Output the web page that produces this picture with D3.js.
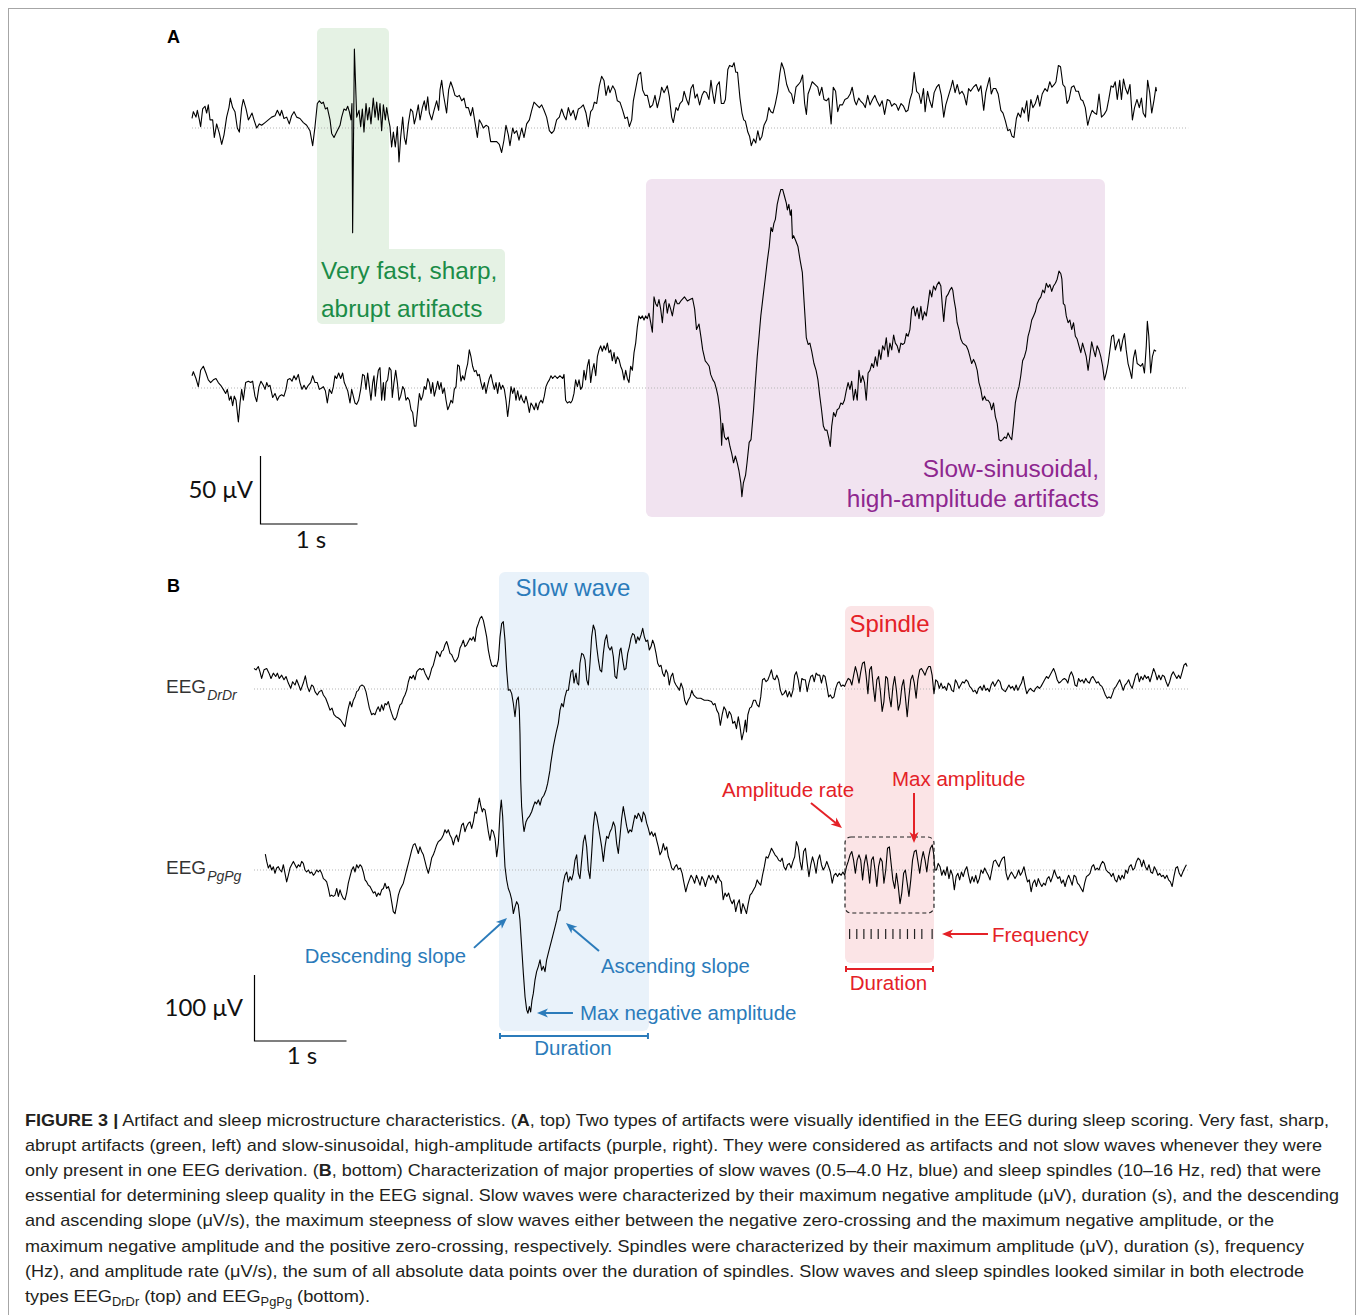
<!DOCTYPE html>
<html><head><meta charset="utf-8">
<script src="https://cdn.jsdelivr.net/npm/d3@7"></script>
<style>body{margin:0;background:#fff}svg{display:block}</style>
</head><body>
<svg id="fig" width="1358" height="1315"></svg>
<script>
// ---------------- DATA (time in s, amplitude in µV) ----------------
const traceA1 = [[0,7],[0.014,12],[0.041,8],[0.055,13],[0.076,6],[0.089,1],[0.110,14],[0.134,16],[0.151,11],[0.168,17],[0.186,6],[0.213,6],[0.230,-7],[0.254,3],[0.282,-4],[0.306,-12],[0.330,-5],[0.357,8],[0.381,15],[0.395,22],[0.419,15],[0.443,12],[0.467,0],[0.488,-3],[0.512,15],[0.529,21],[0.557,14],[0.581,6],[0.598,8],[0.619,11],[0.639,6],[0.667,0],[0.694,3],[0.718,2],[0.753,4],[0.787,6],[0.821,8],[0.856,9],[0.880,13],[0.907,9],[0.924,13],[0.948,7],[0.976,8],[1.003,3],[1.027,9],[1.052,12],[1.079,8],[1.113,7],[1.148,4],[1.182,2],[1.216,-2],[1.244,-13],[1.268,1],[1.292,18],[1.313,20],[1.337,18],[1.354,19],[1.375,14],[1.395,15],[1.423,6],[1.440,-4],[1.464,-7],[1.491,-3],[1.526,2],[1.543,8],[1.567,14],[1.588,13],[1.605,16],[1.622,12],[1.639,6],[1.649,18],[1.656,-77],[1.674,58],[1.698,8],[1.722,13],[1.739,1],[1.756,14],[1.773,-3],[1.794,18],[1.811,6],[1.828,15],[1.845,3],[1.869,22],[1.887,8],[1.904,19],[1.921,6],[1.938,18],[1.955,-2],[1.973,17],[1.993,6],[2.007,15],[2.027,6],[2.041,1],[2.058,-14],[2.076,-3],[2.096,-14],[2.117,1],[2.134,-25],[2.151,-7],[2.172,8],[2.189,-7],[2.206,-12],[2.230,3],[2.254,14],[2.275,12],[2.292,3],[2.309,8],[2.333,17],[2.351,6],[2.375,15],[2.395,20],[2.412,13],[2.430,23],[2.447,11],[2.471,6],[2.495,13],[2.522,20],[2.543,13],[2.557,28],[2.574,35],[2.591,25],[2.608,18],[2.625,11],[2.646,28],[2.667,34],[2.687,30],[2.711,24],[2.735,23],[2.756,24],[2.780,20],[2.804,22],[2.825,15],[2.849,15],[2.873,9],[2.893,15],[2.918,4],[2.942,-7],[2.962,6],[2.986,3],[3.003,0],[3.031,2],[3.055,1],[3.079,-10],[3.107,-10],[3.141,-10],[3.168,-12],[3.192,-18],[3.216,-9],[3.237,2],[3.261,-5],[3.278,-13],[3.306,0],[3.323,-4],[3.347,-2],[3.371,-9],[3.399,0],[3.423,-7],[3.450,3],[3.478,6],[3.502,13],[3.526,19],[3.553,17],[3.581,15],[3.605,17],[3.629,13],[3.656,8],[3.684,-2],[3.708,-4],[3.732,-2],[3.759,6],[3.787,8],[3.811,14],[3.835,9],[3.856,6],[3.880,15],[3.904,9],[3.931,13],[3.955,6],[3.983,14],[4.007,15],[4.034,17],[4.062,11],[4.086,1],[4.110,12],[4.131,14],[4.148,19],[4.172,18],[4.199,31],[4.223,38],[4.247,35],[4.268,24],[4.292,31],[4.309,26],[4.337,31],[4.361,28],[4.385,20],[4.412,19],[4.440,13],[4.464,7],[4.488,8],[4.509,1],[4.533,6],[4.550,20],[4.577,30],[4.601,39],[4.625,41],[4.646,28],[4.670,24],[4.694,24],[4.722,15],[4.749,17],[4.773,24],[4.797,15],[4.825,23],[4.842,30],[4.866,26],[4.887,29],[4.900,31],[4.921,23],[4.945,8],[4.962,4],[4.990,15],[5.010,13],[5.031,18],[5.056,20],[5.073,27],[5.098,21],[5.120,17],[5.144,29],[5.166,32],[5.187,22],[5.208,25],[5.233,17],[5.258,24],[5.279,27],[5.304,26],[5.329,21],[5.350,35],[5.365,27],[5.386,18],[5.411,31],[5.436,34],[5.457,18],[5.482,18],[5.499,21],[5.524,43],[5.542,46],[5.570,45],[5.588,48],[5.606,41],[5.624,41],[5.649,22],[5.670,11],[5.688,6],[5.705,5],[5.730,-3],[5.748,-6],[5.766,-13],[5.791,-8],[5.812,-11],[5.833,-2],[5.854,-9],[5.876,-6],[5.897,2],[5.925,6],[5.947,15],[5.968,12],[5.989,11],[6.014,18],[6.039,27],[6.060,40],[6.078,48],[6.103,43],[6.131,32],[6.156,27],[6.181,25],[6.202,18],[6.227,30],[6.252,32],[6.273,34],[6.295,39],[6.316,18],[6.334,10],[6.351,25],[6.376,30],[6.394,34],[6.422,32],[6.451,30],[6.469,24],[6.493,30],[6.515,21],[6.540,20],[6.564,22],[6.589,3],[6.611,30],[6.635,27],[6.657,12],[6.678,17],[6.706,17],[6.731,21],[6.760,22],[6.785,25],[6.806,30],[6.831,20],[6.849,17],[6.873,22],[6.891,20],[6.919,18],[6.941,15],[6.966,24],[6.990,17],[7.015,21],[7.040,24],[7.061,20],[7.090,16],[7.115,20],[7.140,10],[7.168,21],[7.193,20],[7.214,16],[7.239,18],[7.260,17],[7.282,13],[7.310,18],[7.335,16],[7.360,12],[7.381,13],[7.402,21],[7.424,26],[7.445,41],[7.470,27],[7.495,25],[7.516,18],[7.541,29],[7.558,12],[7.583,27],[7.605,20],[7.629,15],[7.651,26],[7.676,30],[7.700,32],[7.725,24],[7.750,8],[7.771,17],[7.800,24],[7.825,30],[7.842,35],[7.867,26],[7.889,32],[7.913,25],[7.938,27],[7.960,24],[7.984,17],[8.006,29],[8.027,27],[8.055,30],[8.084,32],[8.109,27],[8.133,31],[8.162,13],[8.183,26],[8.204,32],[8.222,37],[8.240,25],[8.261,29],[8.286,29],[8.311,25],[8.339,13],[8.361,11],[8.386,5],[8.410,-2],[8.432,-1],[8.453,-6],[8.474,-7],[8.499,7],[8.517,11],[8.542,8],[8.559,15],[8.581,11],[8.606,20],[8.623,5],[8.648,21],[8.669,15],[8.694,18],[8.719,24],[8.740,16],[8.765,25],[8.794,29],[8.818,27],[8.843,34],[8.865,30],[8.890,32],[8.907,34],[8.932,46],[8.954,45],[8.978,32],[9.000,30],[9.021,18],[9.042,21],[9.067,30],[9.092,31],[9.113,27],[9.138,27],[9.163,21],[9.184,20],[9.209,15],[9.234,2],[9.255,8],[9.280,13],[9.305,11],[9.326,10],[9.351,25],[9.376,8],[9.404,10],[9.429,13],[9.451,21],[9.475,31],[9.497,30],[9.518,34],[9.539,21],[9.564,35],[9.582,21],[9.603,36],[9.624,29],[9.646,25],[9.670,32],[9.695,6],[9.717,15],[9.742,21],[9.766,15],[9.788,22],[9.806,11],[9.830,8],[9.852,35],[9.873,26],[9.894,11],[9.919,21],[9.937,30],[9.944,27]];

const traceA2 = [[0,9],[0.014,12],[0.041,7],[0.065,1],[0.089,13],[0.117,16],[0.144,11],[0.168,6],[0.192,4],[0.220,6],[0.247,7],[0.271,4],[0.296,2],[0.323,-1],[0.347,-4],[0.364,-1],[0.385,-9],[0.402,-6],[0.419,-13],[0.436,-6],[0.454,-9],[0.478,-25],[0.495,-11],[0.512,-1],[0.529,-9],[0.553,4],[0.581,5],[0.605,4],[0.625,5],[0.649,-6],[0.667,-10],[0.691,1],[0.711,5],[0.735,2],[0.753,-1],[0.770,4],[0.787,1],[0.804,2],[0.832,-7],[0.856,-4],[0.880,-9],[0.900,-6],[0.924,-5],[0.948,-6],[0.969,-1],[0.986,6],[1.010,7],[1.031,5],[1.052,9],[1.072,6],[1.096,10],[1.113,4],[1.134,-1],[1.155,2],[1.175,-1],[1.199,2],[1.223,4],[1.244,9],[1.268,4],[1.292,4],[1.313,-1],[1.337,0],[1.354,1],[1.375,-2],[1.395,-11],[1.416,-1],[1.440,-4],[1.457,1],[1.474,9],[1.491,7],[1.512,11],[1.533,7],[1.553,11],[1.570,4],[1.588,1],[1.605,-2],[1.629,-11],[1.646,-1],[1.663,-6],[1.680,-11],[1.698,-12],[1.718,-9],[1.739,-1],[1.759,10],[1.777,9],[1.794,-1],[1.811,11],[1.828,1],[1.845,-9],[1.863,4],[1.876,9],[1.890,-6],[1.904,4],[1.921,13],[1.938,15],[1.955,-9],[1.973,4],[1.986,-9],[2.000,4],[2.017,6],[2.034,15],[2.052,13],[2.065,-7],[2.082,4],[2.100,13],[2.117,4],[2.134,-9],[2.151,-6],[2.172,1],[2.189,-1],[2.206,-9],[2.223,-7],[2.241,-9],[2.258,-16],[2.275,-18],[2.292,-28],[2.309,-28],[2.326,-16],[2.344,-4],[2.361,-9],[2.378,-6],[2.395,1],[2.412,-1],[2.430,7],[2.447,4],[2.464,-4],[2.481,4],[2.498,-6],[2.515,-1],[2.533,5],[2.550,-1],[2.567,4],[2.584,-4],[2.601,0],[2.619,-9],[2.636,-16],[2.653,-13],[2.670,-9],[2.687,-11],[2.704,-1],[2.722,1],[2.739,17],[2.756,16],[2.773,5],[2.790,9],[2.808,6],[2.825,13],[2.842,18],[2.859,28],[2.876,23],[2.893,16],[2.911,12],[2.928,13],[2.945,9],[2.962,10],[2.979,4],[2.997,-1],[3.014,4],[3.031,-4],[3.048,2],[3.065,7],[3.082,10],[3.100,4],[3.117,-1],[3.134,4],[3.151,-4],[3.168,4],[3.186,-1],[3.203,2],[3.220,-1],[3.237,-9],[3.254,-21],[3.271,-11],[3.289,1],[3.306,-4],[3.323,0],[3.340,-9],[3.357,-2],[3.375,-9],[3.392,-5],[3.409,-9],[3.426,-11],[3.443,-6],[3.460,-11],[3.478,-18],[3.495,-11],[3.512,-13],[3.529,-16],[3.546,-11],[3.564,-16],[3.581,-11],[3.598,-9],[3.615,-11],[3.632,-6],[3.649,1],[3.667,4],[3.684,6],[3.701,9],[3.718,7],[3.742,9],[3.766,7],[3.794,9],[3.821,7],[3.835,10],[3.852,-9],[3.870,-11],[3.890,-10],[3.904,-11],[3.921,-9],[3.938,-4],[3.955,6],[3.973,1],[3.990,6],[4.007,-1],[4.024,1],[4.041,13],[4.058,6],[4.076,16],[4.093,21],[4.110,4],[4.127,13],[4.144,18],[4.162,9],[4.179,23],[4.196,28],[4.213,31],[4.230,27],[4.247,31],[4.265,28],[4.282,33],[4.299,26],[4.316,28],[4.333,20],[4.351,26],[4.368,18],[4.385,23],[4.402,21],[4.419,16],[4.436,13],[4.454,6],[4.471,13],[4.488,7],[4.505,4],[4.522,16],[4.540,13],[4.557,26],[4.574,33],[4.591,45],[4.608,53],[4.625,51],[4.643,53],[4.660,50],[4.677,53],[4.694,51],[4.711,55],[4.729,48],[4.746,41],[4.763,67],[4.780,62],[4.797,60],[4.814,65],[4.832,58],[4.849,48],[4.866,62],[4.883,65],[4.900,55],[4.918,62],[4.935,58],[4.952,53],[4.969,60],[4.986,65],[5.003,62],[5.021,62],[5.040,64],[5.077,67],[5.107,64],[5.133,65],[5.160,66],[5.182,58],[5.201,43],[5.227,47],[5.246,38],[5.265,28],[5.291,20],[5.313,18],[5.332,16],[5.347,10],[5.370,6],[5.388,4],[5.407,-1],[5.422,-6],[5.441,-16],[5.452,-26],[5.460,-42],[5.471,-26],[5.490,-36],[5.508,-38],[5.527,-36],[5.546,-43],[5.564,-48],[5.583,-55],[5.602,-50],[5.621,-55],[5.639,-61],[5.658,-70],[5.669,-80],[5.684,-70],[5.707,-64],[5.722,-55],[5.744,-40],[5.763,-38],[5.789,-16],[5.808,4],[5.827,23],[5.846,38],[5.864,53],[5.887,67],[5.909,80],[5.932,94],[5.951,104],[5.969,118],[5.984,115],[5.999,121],[6.014,124],[6.033,135],[6.052,141],[6.071,146],[6.089,146],[6.108,141],[6.127,136],[6.138,131],[6.153,135],[6.168,127],[6.179,131],[6.190,110],[6.202,112],[6.220,109],[6.247,104],[6.269,94],[6.292,85],[6.307,67],[6.322,50],[6.333,37],[6.352,32],[6.370,33],[6.389,27],[6.412,18],[6.434,13],[6.453,6],[6.472,-6],[6.490,-16],[6.509,-28],[6.527,-31],[6.546,-31],[6.565,-37],[6.580,-43],[6.595,-28],[6.614,-18],[6.633,-21],[6.651,-16],[6.670,-15],[6.689,-11],[6.708,-12],[6.726,-9],[6.745,-2],[6.764,4],[6.783,-1],[6.801,5],[6.820,-9],[6.839,-1],[6.858,-9],[6.876,13],[6.895,4],[6.914,9],[6.933,4],[6.951,-9],[6.970,11],[6.989,13],[7.008,18],[7.026,15],[7.045,23],[7.064,16],[7.083,28],[7.101,21],[7.120,31],[7.139,28],[7.158,37],[7.176,23],[7.195,33],[7.214,28],[7.233,39],[7.251,33],[7.270,31],[7.289,26],[7.308,33],[7.326,32],[7.345,33],[7.364,40],[7.382,38],[7.401,43],[7.420,58],[7.439,60],[7.457,53],[7.476,59],[7.495,51],[7.514,60],[7.532,50],[7.551,56],[7.570,53],[7.589,62],[7.607,72],[7.626,67],[7.645,75],[7.664,72],[7.682,76],[7.701,78],[7.720,75],[7.738,58],[7.750,49],[7.761,58],[7.776,67],[7.795,69],[7.813,72],[7.832,74],[7.843,72],[7.858,64],[7.873,58],[7.888,48],[7.907,43],[7.926,36],[7.945,33],[7.963,32],[7.982,31],[8.001,28],[8.020,23],[8.038,18],[8.057,21],[8.076,18],[8.095,13],[8.113,4],[8.132,-1],[8.151,-9],[8.170,-6],[8.188,-9],[8.207,-9],[8.226,-11],[8.244,-16],[8.263,-11],[8.282,-21],[8.301,-26],[8.320,-38],[8.338,-39],[8.357,-38],[8.376,-36],[8.395,-37],[8.413,-33],[8.432,-36],[8.451,-38],[8.469,-26],[8.488,-11],[8.507,-4],[8.526,1],[8.544,9],[8.563,20],[8.582,23],[8.601,28],[8.619,38],[8.638,43],[8.657,50],[8.676,53],[8.694,56],[8.713,62],[8.732,65],[8.751,67],[8.770,72],[8.788,70],[8.807,77],[8.826,74],[8.844,76],[8.863,71],[8.882,75],[8.901,77],[8.919,80],[8.938,86],[8.957,84],[8.968,80],[8.983,62],[8.998,61],[9.013,53],[9.032,48],[9.050,50],[9.069,43],[9.088,48],[9.107,38],[9.125,36],[9.144,31],[9.163,26],[9.181,33],[9.200,28],[9.219,23],[9.238,13],[9.256,23],[9.275,34],[9.294,28],[9.313,23],[9.331,31],[9.350,28],[9.369,23],[9.388,16],[9.406,6],[9.425,11],[9.444,18],[9.463,28],[9.481,38],[9.500,39],[9.519,28],[9.538,33],[9.556,36],[9.575,27],[9.594,35],[9.613,40],[9.631,28],[9.650,18],[9.669,13],[9.688,7],[9.706,22],[9.725,28],[9.744,18],[9.763,17],[9.781,16],[9.800,18],[9.819,11],[9.838,31],[9.849,49],[9.864,38],[9.883,11],[9.901,23],[9.920,28],[9.939,27]];

const traceDrDr = [[0,31],[0.022,29],[0.047,34],[0.065,26],[0.083,16],[0.109,29],[0.138,31],[0.163,24],[0.185,16],[0.210,24],[0.236,19],[0.254,24],[0.275,16],[0.301,21],[0.326,14],[0.348,19],[0.373,9],[0.399,1],[0.420,11],[0.446,6],[0.464,14],[0.486,6],[0.507,-2],[0.536,9],[0.558,20],[0.580,4],[0.601,-4],[0.627,6],[0.645,4],[0.663,-4],[0.688,-9],[0.710,-4],[0.736,-2],[0.754,-9],[0.779,-14],[0.801,-22],[0.826,-32],[0.848,-29],[0.870,-39],[0.891,-42],[0.917,-44],[0.942,-47],[0.964,-52],[0.989,-57],[1.007,-42],[1.025,-29],[1.043,-19],[1.062,-27],[1.080,-17],[1.098,-12],[1.116,-4],[1.134,-2],[1.152,4],[1.174,6],[1.196,4],[1.217,-4],[1.232,-14],[1.254,-29],[1.279,-39],[1.297,-37],[1.315,-39],[1.333,-32],[1.351,-27],[1.370,-34],[1.388,-24],[1.406,-32],[1.424,-22],[1.442,-24],[1.460,-19],[1.478,-29],[1.496,-37],[1.514,-44],[1.533,-47],[1.551,-42],[1.569,-32],[1.587,-24],[1.605,-22],[1.623,-14],[1.641,-9],[1.659,-2],[1.678,11],[1.696,19],[1.714,16],[1.732,21],[1.750,14],[1.768,26],[1.786,29],[1.804,31],[1.822,29],[1.841,31],[1.859,24],[1.877,19],[1.895,14],[1.913,21],[1.931,31],[1.949,36],[1.967,46],[1.986,57],[2.004,54],[2.022,49],[2.040,57],[2.058,59],[2.076,67],[2.094,72],[2.112,64],[2.130,54],[2.149,52],[2.167,46],[2.185,41],[2.203,44],[2.221,49],[2.239,62],[2.257,67],[2.275,74],[2.293,64],[2.312,67],[2.330,72],[2.348,77],[2.366,74],[2.384,79],[2.402,72],[2.420,92],[2.438,99],[2.457,107],[2.475,110],[2.493,104],[2.511,92],[2.529,79],[2.547,59],[2.565,46],[2.583,36],[2.601,34],[2.620,36],[2.638,34],[2.656,44],[2.674,79],[2.692,99],[2.710,102],[2.728,74],[2.746,29],[2.764,-2],[2.783,-1],[2.801,-7],[2.819,-22],[2.837,-42],[2.855,-17],[2.873,-12],[2.884,-32],[2.891,-67],[2.899,-138],[2.909,-178],[2.924,-203],[2.935,-216],[2.957,-201],[2.975,-196],[2.993,-193],[3.018,-186],[3.036,-178],[3.054,-171],[3.072,-174],[3.091,-168],[3.109,-176],[3.127,-166],[3.152,-161],[3.174,-153],[3.192,-143],[3.217,-123],[3.225,-113],[3.254,-87],[3.283,-67],[3.308,-52],[3.326,-32],[3.344,-22],[3.362,-27],[3.380,-12],[3.399,-2],[3.417,-2],[3.428,9],[3.446,26],[3.464,29],[3.478,9],[3.500,24],[3.514,9],[3.529,6],[3.543,39],[3.562,54],[3.580,52],[3.598,44],[3.616,14],[3.634,6],[3.652,39],[3.670,79],[3.688,97],[3.707,89],[3.725,64],[3.743,44],[3.761,29],[3.779,26],[3.797,54],[3.815,74],[3.833,82],[3.851,64],[3.870,59],[3.888,64],[3.906,49],[3.924,19],[3.942,16],[3.960,39],[3.978,59],[3.989,62],[4.007,44],[4.025,29],[4.043,31],[4.062,54],[4.080,64],[4.098,77],[4.116,84],[4.134,82],[4.152,69],[4.170,79],[4.188,74],[4.207,82],[4.225,92],[4.243,79],[4.261,72],[4.279,74],[4.297,59],[4.315,64],[4.333,74],[4.351,67],[4.370,54],[4.388,39],[4.406,34],[4.424,36],[4.442,24],[4.460,19],[4.478,29],[4.496,24],[4.514,6],[4.533,19],[4.551,24],[4.569,11],[4.587,6],[4.612,1],[4.623,-2],[4.642,9],[4.662,1],[4.681,-17],[4.701,-24],[4.720,-17],[4.740,-12],[4.759,-2],[4.778,-9],[4.798,-12],[4.817,-14],[4.856,-14],[4.895,-17],[4.934,-17],[4.972,-19],[4.992,-24],[5.011,-22],[5.030,-32],[5.050,-37],[5.069,-55],[5.089,-39],[5.108,-27],[5.128,-32],[5.147,-44],[5.166,-34],[5.186,-39],[5.205,-52],[5.225,-49],[5.244,-60],[5.264,-42],[5.283,-57],[5.302,-77],[5.322,-65],[5.341,-47],[5.353,-65],[5.368,-39],[5.388,-29],[5.407,-27],[5.430,-17],[5.450,-17],[5.469,-24],[5.489,-27],[5.508,-12],[5.527,14],[5.547,16],[5.566,11],[5.586,14],[5.605,21],[5.624,29],[5.644,16],[5.663,14],[5.683,21],[5.702,14],[5.722,-2],[5.741,-9],[5.760,-7],[5.780,-2],[5.799,-12],[5.819,-4],[5.838,-12],[5.858,-2],[5.877,21],[5.896,26],[5.916,14],[5.935,-4],[5.955,16],[5.974,14],[5.993,14],[6.013,-4],[6.032,9],[6.052,19],[6.071,21],[6.090,11],[6.110,24],[6.129,21],[6.149,21],[6.168,9],[6.188,21],[6.207,19],[6.227,4],[6.246,-12],[6.265,-9],[6.285,-14],[6.304,-12],[6.323,1],[6.343,9],[6.362,11],[6.382,4],[6.401,6],[6.420,4],[6.440,11],[6.459,16],[6.479,14],[6.498,6],[6.518,21],[6.537,34],[6.556,24],[6.576,9],[6.595,26],[6.614,39],[6.634,41],[6.653,21],[6.673,-7],[6.692,29],[6.711,34],[6.731,4],[6.750,-19],[6.770,14],[6.789,19],[6.809,-4],[6.828,-34],[6.847,-19],[6.867,19],[6.886,16],[6.906,-12],[6.925,-27],[6.945,4],[6.964,19],[6.983,-2],[7.003,-32],[7.022,-22],[7.042,4],[7.061,14],[7.080,-12],[7.100,-42],[7.119,-12],[7.139,14],[7.158,21],[7.177,9],[7.197,-14],[7.216,14],[7.236,29],[7.255,31],[7.275,26],[7.294,21],[7.313,29],[7.333,34],[7.352,34],[7.371,21],[7.391,-7],[7.410,14],[7.430,11],[7.449,1],[7.468,9],[7.488,1],[7.507,4],[7.527,-2],[7.546,9],[7.566,6],[7.585,-2],[7.604,-4],[7.624,14],[7.643,9],[7.663,1],[7.682,6],[7.701,11],[7.721,9],[7.740,14],[7.760,11],[7.779,4],[7.799,1],[7.818,-4],[7.837,-2],[7.857,-7],[7.876,1],[7.896,4],[7.915,-2],[7.934,6],[7.954,-2],[7.973,1],[7.993,-4],[8.012,6],[8.031,11],[8.051,4],[8.070,9],[8.090,14],[8.109,11],[8.128,1],[8.148,-2],[8.167,-4],[8.187,1],[8.206,6],[8.225,1],[8.245,4],[8.264,-2],[8.284,6],[8.303,-2],[8.323,4],[8.342,9],[8.361,19],[8.381,4],[8.400,-7],[8.420,-2],[8.439,1],[8.458,-2],[8.478,-4],[8.497,1],[8.517,4],[8.536,1],[8.555,4],[8.575,9],[8.594,14],[8.614,19],[8.633,16],[8.652,21],[8.672,26],[8.691,31],[8.711,24],[8.730,14],[8.749,9],[8.769,11],[8.788,14],[8.808,16],[8.827,14],[8.846,9],[8.866,21],[8.885,26],[8.905,19],[8.924,6],[8.944,4],[8.963,16],[8.982,11],[9.002,14],[9.021,9],[9.041,16],[9.060,11],[9.080,9],[9.099,16],[9.118,19],[9.138,14],[9.157,9],[9.177,11],[9.196,6],[9.216,4],[9.235,-2],[9.254,-9],[9.274,-14],[9.293,-12],[9.313,-14],[9.332,-7],[9.351,1],[9.371,4],[9.390,9],[9.410,14],[9.429,6],[9.448,-2],[9.468,6],[9.487,9],[9.507,14],[9.526,6],[9.545,1],[9.565,11],[9.584,21],[9.604,24],[9.623,11],[9.642,19],[9.662,14],[9.681,21],[9.701,16],[9.720,19],[9.739,11],[9.759,21],[9.778,31],[9.798,24],[9.817,14],[9.836,21],[9.856,14],[9.875,21],[9.895,19],[9.914,11],[9.934,4],[9.953,11],[9.972,21],[9.992,26],[10.011,21],[10.031,16],[10.050,21],[10.069,16],[10.089,26],[10.108,36],[10.128,39],[10.143,34]];

const tracePgPg = [[0.123,24],[0.138,13],[0.156,3],[0.174,8],[0.192,0],[0.210,5],[0.228,-5],[0.246,3],[0.264,5],[0.283,0],[0.301,-3],[0.319,8],[0.337,-5],[0.355,-18],[0.373,-8],[0.391,3],[0.409,8],[0.428,13],[0.446,8],[0.464,3],[0.482,8],[0.500,5],[0.518,13],[0.536,10],[0.554,0],[0.572,-3],[0.591,0],[0.609,-5],[0.627,-3],[0.645,-8],[0.663,-5],[0.681,0],[0.699,-3],[0.717,0],[0.736,-5],[0.754,-13],[0.772,-15],[0.790,-18],[0.808,-28],[0.826,-40],[0.844,-38],[0.862,-40],[0.880,-38],[0.899,-28],[0.917,-40],[0.935,-30],[0.953,-38],[0.971,-43],[0.989,-45],[1.007,-35],[1.025,-20],[1.043,-10],[1.062,0],[1.080,5],[1.098,-3],[1.116,8],[1.134,3],[1.152,8],[1.170,5],[1.188,-3],[1.207,-15],[1.225,-18],[1.243,-23],[1.261,-25],[1.279,-30],[1.297,-35],[1.315,-33],[1.333,-40],[1.351,-35],[1.370,-38],[1.388,-30],[1.406,-28],[1.424,-20],[1.442,-28],[1.460,-25],[1.478,-33],[1.496,-48],[1.514,-63],[1.533,-66],[1.551,-53],[1.569,-38],[1.587,-30],[1.605,-25],[1.623,-20],[1.641,-10],[1.659,0],[1.678,10],[1.696,20],[1.714,30],[1.732,38],[1.750,40],[1.768,33],[1.786,25],[1.804,35],[1.822,28],[1.841,23],[1.859,13],[1.877,3],[1.895,-5],[1.913,5],[1.931,18],[1.949,23],[1.967,30],[1.986,38],[2.004,43],[2.022,45],[2.040,48],[2.058,53],[2.076,61],[2.094,56],[2.112,61],[2.130,53],[2.149,48],[2.167,38],[2.185,48],[2.203,53],[2.221,43],[2.239,56],[2.257,68],[2.275,71],[2.293,58],[2.312,66],[2.330,71],[2.348,73],[2.366,63],[2.384,73],[2.402,88],[2.420,86],[2.438,101],[2.449,109],[2.464,98],[2.482,88],[2.493,93],[2.511,91],[2.529,76],[2.547,58],[2.565,45],[2.583,61],[2.601,58],[2.620,48],[2.638,20],[2.656,40],[2.674,86],[2.688,106],[2.703,81],[2.717,35],[2.728,5],[2.746,-15],[2.764,-28],[2.783,-35],[2.801,-45],[2.819,-66],[2.837,-56],[2.855,-48],[2.873,-53],[2.891,-76],[2.909,-116],[2.928,-157],[2.946,-192],[2.964,-212],[2.978,-217],[2.993,-207],[3.007,-215],[3.022,-197],[3.036,-187],[3.054,-167],[3.072,-154],[3.091,-146],[3.109,-136],[3.127,-152],[3.145,-146],[3.163,-154],[3.181,-136],[3.199,-126],[3.217,-116],[3.236,-106],[3.254,-96],[3.272,-86],[3.290,-76],[3.308,-63],[3.326,-61],[3.344,-40],[3.362,-20],[3.380,-8],[3.399,-3],[3.417,-18],[3.435,-10],[3.453,-15],[3.471,-5],[3.489,15],[3.507,23],[3.525,-5],[3.543,-13],[3.562,15],[3.580,43],[3.598,53],[3.616,35],[3.634,0],[3.652,-13],[3.670,25],[3.688,66],[3.707,88],[3.725,81],[3.743,66],[3.761,51],[3.779,35],[3.797,13],[3.815,35],[3.833,51],[3.851,48],[3.870,58],[3.888,63],[3.906,73],[3.924,66],[3.942,40],[3.960,25],[3.978,51],[3.996,78],[4.014,96],[4.033,81],[4.051,66],[4.069,56],[4.087,61],[4.105,58],[4.123,71],[4.141,83],[4.159,78],[4.178,86],[4.196,81],[4.214,73],[4.232,88],[4.250,83],[4.268,71],[4.286,63],[4.304,53],[4.322,58],[4.341,51],[4.359,56],[4.377,45],[4.395,35],[4.413,23],[4.431,28],[4.449,40],[4.467,30],[4.486,35],[4.504,20],[4.522,13],[4.540,3],[4.558,0],[4.576,5],[4.594,8],[4.612,1],[4.635,3],[4.654,-5],[4.674,-20],[4.693,-33],[4.712,-23],[4.732,-15],[4.751,-8],[4.771,-13],[4.790,-20],[4.809,-8],[4.829,-15],[4.848,-23],[4.868,-10],[4.887,-15],[4.906,-25],[4.926,-15],[4.945,-8],[4.965,-15],[4.984,-8],[5.003,-13],[5.023,-20],[5.042,-8],[5.062,-15],[5.081,-18],[5.100,-45],[5.120,-35],[5.139,-40],[5.159,-35],[5.178,-45],[5.198,-51],[5.217,-45],[5.236,-63],[5.256,-51],[5.275,-45],[5.295,-66],[5.314,-51],[5.333,-58],[5.353,-66],[5.372,-51],[5.392,-38],[5.411,-35],[5.430,-30],[5.450,-25],[5.469,-15],[5.489,-20],[5.508,-23],[5.527,-8],[5.547,5],[5.566,20],[5.586,18],[5.605,25],[5.625,33],[5.644,28],[5.663,23],[5.683,20],[5.702,15],[5.722,13],[5.741,18],[5.760,5],[5.780,0],[5.799,8],[5.819,10],[5.838,3],[5.858,13],[5.877,20],[5.896,43],[5.916,35],[5.935,13],[5.955,0],[5.974,28],[5.994,33],[6.013,10],[6.032,-10],[6.052,8],[6.071,20],[6.090,10],[6.110,-5],[6.129,15],[6.149,23],[6.168,8],[6.187,0],[6.207,5],[6.226,13],[6.246,5],[6.265,-3],[6.285,-20],[6.304,-8],[6.323,-5],[6.343,-10],[6.362,-5],[6.382,-8],[6.401,-3],[6.420,-8],[6.440,5],[6.459,13],[6.479,23],[6.498,28],[6.517,15],[6.537,-5],[6.556,15],[6.576,23],[6.595,15],[6.615,-15],[6.634,10],[6.653,23],[6.673,5],[6.692,-20],[6.712,15],[6.731,20],[6.750,0],[6.770,-25],[6.789,5],[6.809,18],[6.828,13],[6.847,-20],[6.867,0],[6.886,33],[6.906,35],[6.925,10],[6.944,-15],[6.964,-28],[6.983,-5],[7.003,-25],[7.022,-51],[7.041,-35],[7.061,-5],[7.080,0],[7.100,-20],[7.119,-40],[7.139,-15],[7.158,15],[7.177,28],[7.197,30],[7.216,13],[7.236,-5],[7.255,15],[7.274,28],[7.294,15],[7.313,-3],[7.333,20],[7.352,33],[7.372,38],[7.387,25],[7.402,0],[7.418,0],[7.437,10],[7.457,5],[7.476,-8],[7.496,0],[7.515,-8],[7.534,5],[7.554,-13],[7.573,0],[7.593,-8],[7.612,-30],[7.632,-10],[7.651,-5],[7.670,-15],[7.690,-3],[7.709,-10],[7.729,0],[7.748,5],[7.767,-8],[7.787,-20],[7.806,-10],[7.826,-18],[7.845,-8],[7.865,-20],[7.884,-13],[7.903,0],[7.923,-5],[7.942,3],[7.962,-3],[7.981,-8],[8.000,-15],[8.020,0],[8.039,13],[8.059,15],[8.078,10],[8.097,5],[8.117,13],[8.136,18],[8.156,20],[8.175,-5],[8.194,-15],[8.214,-8],[8.233,-3],[8.253,-8],[8.272,-13],[8.292,-8],[8.311,0],[8.330,-8],[8.350,-3],[8.369,5],[8.389,-8],[8.408,-18],[8.427,-15],[8.447,-33],[8.466,-20],[8.486,-15],[8.505,-25],[8.525,-13],[8.544,-20],[8.563,-25],[8.583,-20],[8.602,-23],[8.622,-13],[8.641,-10],[8.660,-18],[8.680,-10],[8.699,0],[8.719,-8],[8.738,-13],[8.757,-10],[8.777,-20],[8.796,-15],[8.816,-25],[8.835,-15],[8.855,-8],[8.874,-15],[8.893,-23],[8.913,-8],[8.932,-10],[8.951,-20],[8.971,-23],[8.990,-28],[9.010,-33],[9.029,-20],[9.048,-10],[9.068,-8],[9.087,-5],[9.107,5],[9.126,8],[9.145,0],[9.165,3],[9.184,0],[9.204,8],[9.223,13],[9.242,10],[9.262,0],[9.281,-3],[9.301,-5],[9.320,-10],[9.339,-5],[9.359,-15],[9.378,-18],[9.398,-8],[9.417,-15],[9.436,-8],[9.456,-13],[9.475,0],[9.495,-5],[9.514,5],[9.534,8],[9.553,0],[9.572,3],[9.592,13],[9.611,18],[9.631,15],[9.650,5],[9.669,15],[9.689,5],[9.708,0],[9.728,8],[9.747,-3],[9.767,-5],[9.786,5],[9.805,0],[9.825,-8],[9.844,-5],[9.864,-10],[9.883,-8],[9.902,-13],[9.922,-8],[9.941,-15],[9.961,-18],[9.980,-25],[9.999,-10],[10.019,3],[10.038,5],[10.057,-5],[10.077,-10],[10.096,-3],[10.116,3],[10.135,8]];

// event intervals (s)
const artifactFast = {start:1.289, end:2.031};
const artifactSlow = {start:4.680, end:9.412};
const slowWaveEvent = {start:2.663, end:4.293};
const spindleEvent = {start:6.424, end:7.391};
// spindle cycle marks (s)
const spindleCycles = [6.474,6.552,6.629,6.708,6.785,6.866,6.945,7.022,7.103,7.180,7.259,7.371];
// scale bars
const scaleA = {sec:1, uv:50};
const scaleB = {sec:1, uv:100};
// annotation arrows in panel B (t in s, v in µV on PgPg trace axis)
const arrowsRed = [
  {from:[6.054,101.5], to:[6.391,63.6]},
  {from:[7.174,116.7], to:[7.174,40.9]},
  {from:[7.978,-97], to:[7.478,-97]}
];
const arrowsBlue = [
  {from:[2.391,-118], to:[2.750,-72.7]},
  {from:[3.750,-122.7], to:[3.391,-80.3]},
  {from:[3.467,-216.7], to:[3.076,-216.7]}
];
const captionLines = [
  [["FIGURE 3 |",1],[" Artifact and sleep microstructure characteristics. (",0],["A",1],[", top) Two types of artifacts were visually identified in the EEG during sleep scoring. Very fast, sharp,",0]],
  [["abrupt artifacts (green, left) and slow-sinusoidal, high-amplitude artifacts (purple, right). They were considered as artifacts and not slow waves whenever they were",0]],
  [["only present in one EEG derivation. (",0],["B",1],[", bottom) Characterization of major properties of slow waves (0.5–4.0 Hz, blue) and sleep spindles (10–16 Hz, red) that were",0]],
  [["essential for determining sleep quality in the EEG signal. Slow waves were characterized by their maximum negative amplitude (μV), duration (s), and the descending",0]],
  [["and ascending slope (μV/s), the maximum steepness of slow waves either between the negative zero-crossing and the maximum negative amplitude, or the",0]],
  [["maximum negative amplitude and the positive zero-crossing, respectively. Spindles were characterized by their maximum amplitude (μV), duration (s), frequency",0]],
  [["(Hz), and amplitude rate (μV/s), the sum of all absolute data points over the duration of spindles. Slow waves and sleep spindles looked similar in both electrode",0]],
  [["types EEG",0],["DrDr",2],[" (top) and EEG",3],["PgPg",2],[" (bottom).",3]]
];
const captionWidths = [1304,1297,1296,1314,1249,1279,1279,345];

// ---------------- DRAW ----------------
const svg = d3.select('#fig');
const SANS = 'Liberation Sans, Arial, Helvetica, sans-serif';
const LATO = 'Lato, Carlito, Calibri, sans-serif';
const GREEN='#1b8c47', PURPLE='#8e278f', BLUE='#2b7bba', RED='#e42127';

svg.append('rect').attr('x',8.5).attr('y',8.5).attr('width',1347).attr('height',1340)
  .attr('fill','none').attr('stroke','#a6a6a6').attr('stroke-width',1);

const xA = d3.scaleLinear().domain([0,10]).range([192,1162]);
const yA1 = d3.scaleLinear().domain([-50,50]).range([128+68,128-68]);
const yA2 = d3.scaleLinear().domain([-50,50]).range([388+68,388-68]);
const xB = d3.scaleLinear().domain([0,10]).range([254,1174]);
const yB1 = d3.scaleLinear().domain([-100,100]).range([689+66,689-66]);
const yB2 = d3.scaleLinear().domain([-100,100]).range([870+66,870-66]);

// Panel A backgrounds
const gA = svg.append('g');
gA.append('rect').attr('x',xA(artifactFast.start)).attr('y',28).attr('width',xA(artifactFast.end)-xA(artifactFast.start))
  .attr('height',260).attr('rx',5).attr('fill','#e5f2e4');
gA.append('rect').attr('x',xA(artifactFast.start)).attr('y',249).attr('width',505-xA(artifactFast.start))
  .attr('height',75).attr('rx',5).attr('fill','#e5f2e4');
gA.append('rect').attr('x',xA(artifactSlow.start)).attr('y',179).attr('width',xA(artifactSlow.end)-xA(artifactSlow.start))
  .attr('height',338).attr('rx',6).attr('fill','#f1e3f0');

// Panel B backgrounds
const gB = svg.append('g');
gB.append('rect').attr('x',xB(slowWaveEvent.start)).attr('y',572).attr('width',xB(slowWaveEvent.end)-xB(slowWaveEvent.start))
  .attr('height',459).attr('rx',6).attr('fill','#e9f2fa');
gB.append('rect').attr('x',xB(spindleEvent.start)).attr('y',606).attr('width',xB(spindleEvent.end)-xB(spindleEvent.start))
  .attr('height',357).attr('rx',6).attr('fill','#fbe4e6');

function baseline(x, y, t0, t1){
  svg.append('line').attr('x1',x(t0)).attr('x2',x(t1)).attr('y1',y(0)).attr('y2',y(0))
    .attr('stroke','#b5b5b5').attr('stroke-width',1).attr('stroke-dasharray','1,2');
}
baseline(xA,yA1,0,10.27);
baseline(xA,yA2,0,10.27);
baseline(xB,yB1,0,10.17);
baseline(xB,yB2,0,10.17);

function trace(data, x, y){
  const line = d3.line().x(d=>x(d[0])).y(d=>y(d[1]));
  svg.append('path').datum(data).attr('d',line).attr('fill','none')
    .attr('stroke','#000').attr('stroke-width',1.1).attr('stroke-linejoin','round');
}
trace(traceA1,xA,yA1);
trace(traceA2,xA,yA2);
trace(traceDrDr,xB,yB1);
trace(tracePgPg,xB,yB2);

svg.append('text').attr('x',167).attr('y',43).text('A').attr('font-family',SANS).attr('font-weight','bold').attr('font-size',18);
svg.append('text').attr('x',167).attr('y',592).text('B').attr('font-family',SANS).attr('font-weight','bold').attr('font-size',18);

function label(x,y,txt,color,size,anchor){
  return svg.append('text').attr('x',x).attr('y',y).text(txt).attr('fill',color)
    .attr('font-family',SANS).attr('font-size',size).attr('text-anchor',anchor||'start');
}
label(321,279,'Very fast, sharp,',GREEN,24.4);
label(321,317,'abrupt artifacts',GREEN,24.4);
label(1099,477,'Slow-sinusoidal,',PURPLE,24.4,'end');
label(1099,507,'high-amplitude artifacts',PURPLE,24.4,'end');

function scaleBar(ox, oy, x, y, sb, uvLabel, lx, ly, sx, sy){
  const h = Math.abs(y(sb.uv)-y(0));
  const w = x(sb.sec)-x(0);
  svg.append('path').attr('d',`M${ox},${oy-h}V${oy}H${ox+w}`).attr('fill','none').attr('stroke','#000').attr('stroke-width',1.2);
  svg.append('text').attr('x',lx).attr('y',ly).attr('text-anchor','end').text(uvLabel)
    .attr('font-family',LATO).attr('font-size',24).attr('fill','#111');
  svg.append('text').attr('x',sx).attr('y',sy).attr('text-anchor','middle').text(sb.sec+' s')
    .attr('font-family',LATO).attr('font-size',24).attr('fill','#111');
}
scaleBar(260.5,524,xA,yA1,scaleA,'50 μV',253,498,311,548);
scaleBar(254.5,1041,xB,yB2,scaleB,'100 μV',243,1016,302,1064);

function eegLabel(x,y,sub){
  const t = svg.append('text').attr('x',x).attr('y',y).attr('font-family',SANS).attr('fill','#333');
  t.append('tspan').text('EEG').attr('font-size',19);
  t.append('tspan').text(sub).attr('font-size',14).attr('font-style','italic').attr('dy',7).attr('dx',1);
}
eegLabel(166,693,'DrDr');
eegLabel(166,874,'PgPg');

label((xB(slowWaveEvent.start)+xB(slowWaveEvent.end))/2-1,596,'Slow wave',BLUE,24,'middle');
label((xB(spindleEvent.start)+xB(spindleEvent.end))/2,632,'Spindle',RED,24,'middle');

svg.append('rect').attr('x',xB(spindleEvent.start)).attr('y',837)
  .attr('width',xB(spindleEvent.end)-xB(spindleEvent.start)).attr('height',76).attr('rx',6)
  .attr('fill','none').attr('stroke','#222').attr('stroke-width',1.2).attr('stroke-dasharray','4,3');

svg.selectAll('line.cyc').data(spindleCycles).enter().append('line').attr('class','cyc')
  .attr('x1',d=>xB(d)).attr('x2',d=>xB(d)).attr('y1',929).attr('y2',939)
  .attr('stroke','#222').attr('stroke-width',1.2);

function arrow(a,color){
  const x1=xB(a.from[0]), y1=yB2(a.from[1]), x2=xB(a.to[0]), y2=yB2(a.to[1]);
  const dx=x2-x1, dy=y2-y1, L=Math.hypot(dx,dy), ux=dx/L, uy=dy/L;
  const hl=11, hw=9;
  const bx=x2-ux*hl, by=y2-uy*hl;
  svg.append('line').attr('x1',x1).attr('y1',y1).attr('x2',bx+ux*3).attr('y2',by+uy*3)
    .attr('stroke',color).attr('stroke-width',2);
  svg.append('path').attr('d',`M${x2},${y2}L${bx-uy*hw/2},${by+ux*hw/2}L${bx+ux*3},${by+uy*3}L${bx+uy*hw/2},${by-ux*hw/2}Z`).attr('fill',color);
}
arrowsRed.forEach(a=>arrow(a,RED));
arrowsBlue.forEach(a=>arrow(a,BLUE));

function duration(ev,y,color,ty){
  const x1=xB(ev.start)+1, x2=xB(ev.end)-1;
  svg.append('path').attr('d',`M${x1},${y-3}V${y+3}M${x1},${y}H${x2}M${x2},${y-3}V${y+3}`)
    .attr('fill','none').attr('stroke',color).attr('stroke-width',2);
  label((x1+x2)/2-1,ty,'Duration',color,20.5,'middle');
}
duration(spindleEvent,969,RED,990);
duration(slowWaveEvent,1036,BLUE,1055);

label(722,797,'Amplitude rate',RED,20.5);
label(892,786,'Max amplitude',RED,20.5);
label(992,942,'Frequency',RED,20.5);
label(466,963,'Descending slope',BLUE,20.3,'end');
label(601,973,'Ascending slope',BLUE,20.3);
label(580,1020,'Max negative amplitude',BLUE,20.5);

// caption: kind 0 normal, 1 bold, 2 subscript, 3 normal after subscript
captionLines.forEach((segs,i)=>{
  const t = svg.append('text').attr('x',25).attr('y',1126+i*25.1)
    .attr('font-family',SANS).attr('font-size',17).attr('fill','#231f20')
    .attr('textLength',captionWidths[i]).attr('lengthAdjust','spacingAndGlyphs');
  segs.forEach(([s,k])=>{
    const ts = t.append('tspan').text(s);
    if(k===1) ts.attr('font-weight','bold');
    if(k===2) ts.attr('font-size',12).attr('dy',4);
    if(k===3) ts.attr('dy',-4);
  });
});
</script>
</body></html>
